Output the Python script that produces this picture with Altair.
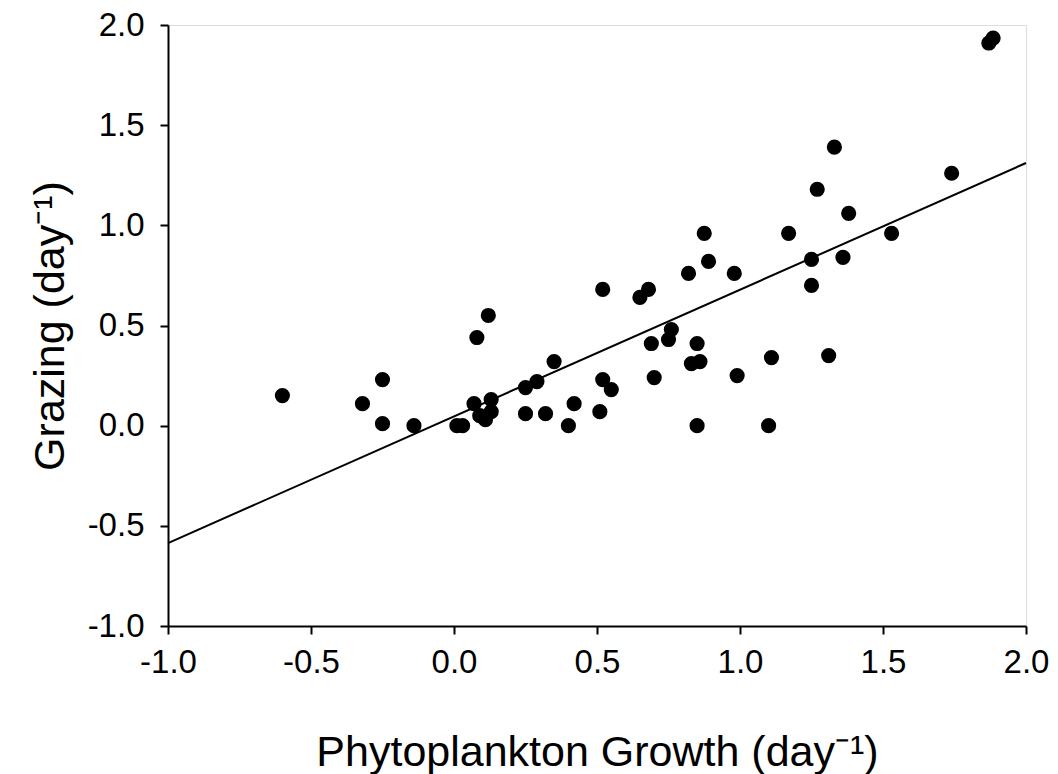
import altair as alt
import pandas as pd

growth = [-0.60, -0.32, -0.25, -0.25, -0.14, 0.01, 0.03, 0.07, 0.08, 0.09,
          0.11, 0.13, 0.13, 0.12, 0.25, 0.25, 0.29, 0.32, 0.35, 0.40,
          0.42, 0.51, 0.52, 0.52, 0.55, 0.65, 0.68, 0.69, 0.70, 0.75,
          0.76, 0.82, 0.83, 0.85, 0.86, 0.85, 0.875, 0.89, 0.98, 0.99,
          1.10, 1.11, 1.17, 1.25, 1.25, 1.27, 1.31, 1.33, 1.36, 1.38,
          1.53, 1.74, 1.87, 1.885]
grazing = [0.15, 0.11, 0.23, 0.01, 0.00, 0.00, 0.00, 0.11, 0.44, 0.05,
           0.03, 0.07, 0.13, 0.55, 0.06, 0.19, 0.22, 0.06, 0.32, 0.00,
           0.11, 0.07, 0.68, 0.23, 0.18, 0.64, 0.68, 0.41, 0.24, 0.43,
           0.48, 0.76, 0.31, 0.41, 0.32, 0.00, 0.96, 0.82, 0.76, 0.25,
           0.00, 0.34, 0.96, 0.83, 0.70, 1.18, 0.35, 1.39, 0.84, 1.06,
           0.96, 1.26, 1.91, 1.935]

# Regression line end points
line_x = [-1.0, 2.0]
line_y = [-0.586, 1.311]

x_ticks = [-1.0, -0.5, 0.0, 0.5, 1.0, 1.5, 2.0]
y_ticks = [-1.0, -0.5, 0.0, 0.5, 1.0, 1.5, 2.0]

pts = pd.DataFrame({"growth": growth, "grazing": grazing})
ln = pd.DataFrame({"growth": line_x, "grazing": line_y})

FONT = "Liberation Sans"
LABEL_EXPR = "(datum.value < 0 ? '-' : '') + format(abs(datum.value), '.1f')"

xscale = alt.Scale(domain=[-1.0, 2.0], nice=False, zero=False)
yscale = alt.Scale(domain=[-1.0, 2.0], nice=False, zero=False)

xaxis = alt.Axis(
    title="Phytoplankton Growth (day⁻¹)",
    values=x_ticks, labelExpr=LABEL_EXPR, grid=False,
    domainColor="black", domainWidth=2, tickColor="black", tickWidth=2, tickSize=8,
    labelFont=FONT, labelFontSize=33, labelColor="black", labelPadding=12,
    labelFlush=False,
    titleFont=FONT, titleFontSize=43, titleFontWeight="normal", titleColor="black",
    titleBaseline="alphabetic", titleY=139,
)
yaxis = alt.Axis(
    title="Grazing (day⁻¹)",
    values=y_ticks, labelExpr=LABEL_EXPR, grid=False,
    domainColor="black", domainWidth=2, tickColor="black", tickWidth=2, tickSize=8,
    labelFont=FONT, labelFontSize=33, labelColor="black", labelPadding=16,
    labelFlush=False,
    titleFont=FONT, titleFontSize=43, titleFontWeight="normal", titleColor="black",
    titleBaseline="alphabetic", titleX=-105,
)

points = alt.Chart(pts).mark_circle(size=230, color="black", opacity=1).encode(
    x=alt.X("growth:Q", scale=xscale, axis=xaxis),
    y=alt.Y("grazing:Q", scale=yscale, axis=yaxis),
)

line = alt.Chart(ln).mark_line(color="black", strokeWidth=2).encode(
    x=alt.X("growth:Q", scale=xscale),
    y=alt.Y("grazing:Q", scale=yscale),
)

chart = (
    alt.layer(line, points)
    .properties(
        width=858, height=601,
        autosize=alt.AutoSizeParams(type="none"),
        padding={"left": 168, "top": 25, "right": 32, "bottom": 148},
    )
    .configure_view(stroke="black", strokeWidth=2)
    .configure(background="white")
)

chart.save("out.html", embed_options={"renderer": "svg", "actions": False})
